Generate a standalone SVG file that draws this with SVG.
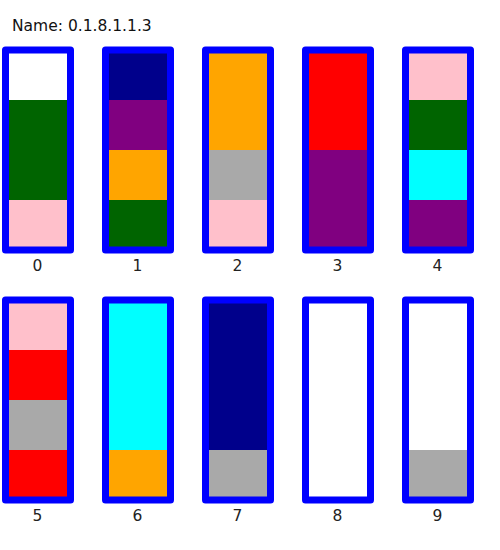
<svg xmlns="http://www.w3.org/2000/svg" width="500" height="550" viewBox="0 0 500 550">
<style>
.tube{fill:none;stroke:#0000FF;stroke-width:7;stroke-linejoin:round}
.lbl{font-family:"DejaVu Sans",sans-serif;font-size:15.5px;fill:#222;text-anchor:middle}
.title{font-family:"DejaVu Sans",sans-serif;font-size:15.5px;fill:#111}
.w{fill:#FFFFFF}.g{fill:#006400}.p{fill:#FFC0CB}.n{fill:#00008B}.u{fill:#800080}.o{fill:#FFA500}.y{fill:#A9A9A9}.r{fill:#FF0000}.c{fill:#00FFFF}
</style>
<rect width="500" height="550" fill="#FFFFFF"/>
<text class="title" x="12" y="31">Name: 0.1.8.1.1.3</text>
<g id="tube0">
<rect class="w" x="5.5" y="50" width="65" height="50"/><rect class="g" x="5.5" y="100" width="65" height="100"/><rect class="p" x="5.5" y="200" width="65" height="50"/>
<rect class="tube" x="5.5" y="50" width="65" height="200"/><text class="lbl" x="37.5" y="271">0</text></g>
<g id="tube1">
<rect class="n" x="105.5" y="50" width="65" height="50"/><rect class="u" x="105.5" y="100" width="65" height="50"/><rect class="o" x="105.5" y="150" width="65" height="50"/><rect class="g" x="105.5" y="200" width="65" height="50"/>
<rect class="tube" x="105.5" y="50" width="65" height="200"/><text class="lbl" x="137.5" y="271">1</text></g>
<g id="tube2">
<rect class="o" x="205.5" y="50" width="65" height="100"/><rect class="y" x="205.5" y="150" width="65" height="50"/><rect class="p" x="205.5" y="200" width="65" height="50"/>
<rect class="tube" x="205.5" y="50" width="65" height="200"/><text class="lbl" x="237.5" y="271">2</text></g>
<g id="tube3">
<rect class="r" x="305.5" y="50" width="65" height="100"/><rect class="u" x="305.5" y="150" width="65" height="100"/>
<rect class="tube" x="305.5" y="50" width="65" height="200"/><text class="lbl" x="337.5" y="271">3</text></g>
<g id="tube4">
<rect class="p" x="405.5" y="50" width="65" height="50"/><rect class="g" x="405.5" y="100" width="65" height="50"/><rect class="c" x="405.5" y="150" width="65" height="50"/><rect class="u" x="405.5" y="200" width="65" height="50"/>
<rect class="tube" x="405.5" y="50" width="65" height="200"/><text class="lbl" x="437.5" y="271">4</text></g>
<g id="tube5">
<rect class="p" x="5.5" y="300" width="65" height="50"/><rect class="r" x="5.5" y="350" width="65" height="50"/><rect class="y" x="5.5" y="400" width="65" height="50"/><rect class="r" x="5.5" y="450" width="65" height="50"/>
<rect class="tube" x="5.5" y="300" width="65" height="200"/><text class="lbl" x="37.5" y="521">5</text></g>
<g id="tube6">
<rect class="c" x="105.5" y="300" width="65" height="150"/><rect class="o" x="105.5" y="450" width="65" height="50"/>
<rect class="tube" x="105.5" y="300" width="65" height="200"/><text class="lbl" x="137.5" y="521">6</text></g>
<g id="tube7">
<rect class="n" x="205.5" y="300" width="65" height="150"/><rect class="y" x="205.5" y="450" width="65" height="50"/>
<rect class="tube" x="205.5" y="300" width="65" height="200"/><text class="lbl" x="237.5" y="521">7</text></g>
<g id="tube8">
<rect class="tube" x="305.5" y="300" width="65" height="200"/><text class="lbl" x="337.5" y="521">8</text></g>
<g id="tube9">
<rect class="y" x="405.5" y="450" width="65" height="50"/>
<rect class="tube" x="405.5" y="300" width="65" height="200"/><text class="lbl" x="437.5" y="521">9</text></g>
<g id="connectors"/>
</svg>
